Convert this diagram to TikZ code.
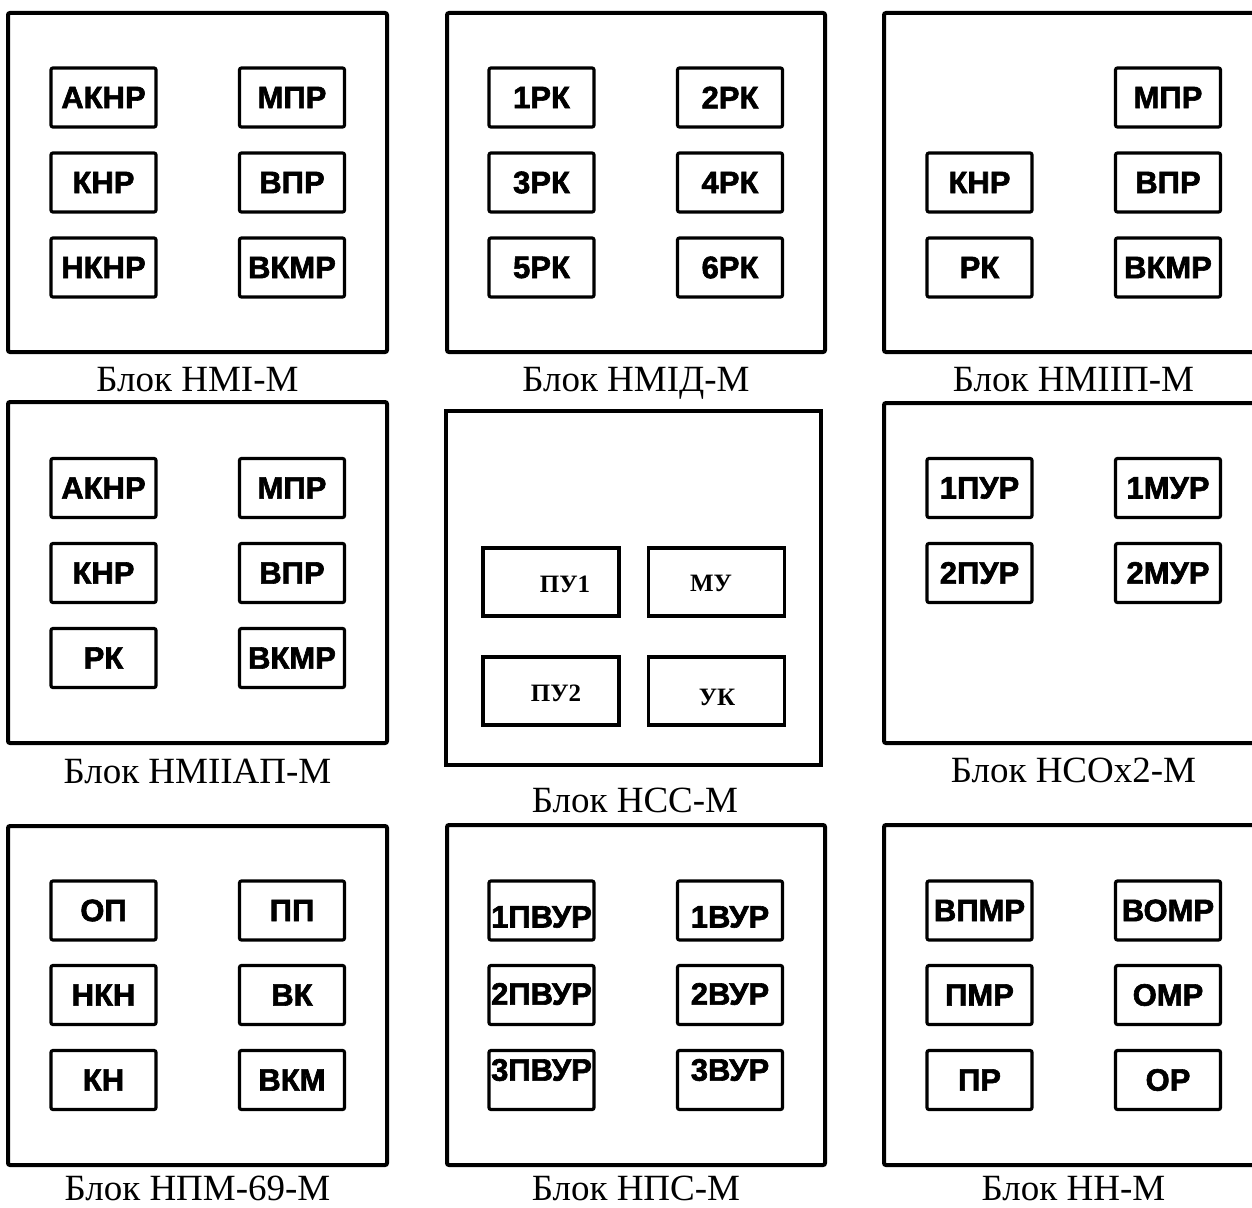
\documentclass[tikz,border=0pt]{standalone}
\usepackage{fontspec}
\setmainfont{Liberation Serif}
\newfontfamily\boxfont{Liberation Sans}[BoldFeatures={FakeBold=2}]
\newfontfamily\serbox{Liberation Serif}
\begin{document}
\begin{tikzpicture}[x=1pt,y=-1pt,
  frame/.style={draw=black,line width=4pt,rounded corners=2pt},
  cell/.style={draw=black,line width=3.2pt,rounded corners=2pt,minimum width=105pt,minimum height=59pt,inner sep=0pt,font=\boxfont\bfseries\fontsize{31}{31}\selectfont},
  ccell/.style={draw=black,line width=3.5pt,minimum width=136pt,minimum height=68pt,inner sep=0pt},
  ctext/.style={font=\serbox\bfseries\fontsize{25}{25}\selectfont,inner sep=0pt},
  caption/.style={font=\fontsize{37}{40}\selectfont,inner sep=0pt,anchor=base}]
\useasboundingbox (0,0) rectangle (1252,1207);
\clip (0,0) rectangle (1252,1207);

% ---------- Row 1 ----------
% Block NMI-M
\draw[frame] (8,13) rectangle (387,352);
\node[cell] (a1) at (103.5,97.5) {АКНР};
\node[cell] (a2) at (292,97.5) {МПР};
\node[cell] (a3) at (103.5,182.5) {КНР};
\node[cell] (a4) at (292,182.5) {ВПР};
\node[cell] (a5) at (103.5,267.5) {НКНР};
\node[cell] (a6) at (292,267.5) {ВКМР};
\node[caption] (ca) at (197.5,391) {Блок НМІ-М};

% Block NMID-M
\draw[frame] (447,13) rectangle (825,352);
\node[cell] (b1) at (541.5,97.5) {1РК};
\node[cell] (b2) at (730,97.5) {2РК};
\node[cell] (b3) at (541.5,182.5) {3РК};
\node[cell] (b4) at (730,182.5) {4РК};
\node[cell] (b5) at (541.5,267.5) {5РК};
\node[cell] (b6) at (730,267.5) {6РК};
\node[caption] (cb) at (636,391) {Блок НМІД-М};

% Block NMIIP-M
\draw[frame] (884,13) rectangle (1263,352);
\node[cell] (c2) at (1168,97.5) {МПР};
\node[cell] (c3) at (979.5,182.5) {КНР};
\node[cell] (c4) at (1168,182.5) {ВПР};
\node[cell] (c5) at (979.5,267.5) {РК};
\node[cell] (c6) at (1168,267.5) {ВКМР};
\node[caption] (cc) at (1073.5,391) {Блок НМІІП-М};

% ---------- Row 2 ----------
% Block NMIIAP-M
\draw[frame] (8,402) rectangle (387,743);
\node[cell] (d1) at (103.5,488) {АКНР};
\node[cell] (d2) at (292,488) {МПР};
\node[cell] (d3) at (103.5,573) {КНР};
\node[cell] (d4) at (292,573) {ВПР};
\node[cell] (d5) at (103.5,658) {РК};
\node[cell] (d6) at (292,658) {ВКМР};
\node[caption] (cd) at (197.5,783) {Блок НМІІАП-М};

% Block NSS-M
\draw[draw=black,line width=4pt] (446,411) rectangle (821,765);
\node[ccell] (e1) at (551,582) {};
\node[ccell] (e2) at (716.5,582) {};
\node[ccell] (e3) at (551,691) {};
\node[ccell] (e4) at (716.5,691) {};
\node[ctext] at (565,584) {ПУ1};
\node[ctext] at (711,583) {МУ};
\node[ctext] at (556,693) {ПУ2};
\node[ctext] at (717,697) {УК};
\node[caption] (ce) at (635,812) {Блок НСС-М};

% Block NSOx2-M
\draw[frame] (884,403) rectangle (1263,743);
\node[cell] (f1) at (979.5,488) {1ПУР};
\node[cell] (f2) at (1168,488) {1МУР};
\node[cell] (f3) at (979.5,573) {2ПУР};
\node[cell] (f4) at (1168,573) {2МУР};
\node[caption] (cf) at (1073.5,782) {Блок НСОх2-М};

% ---------- Row 3 ----------
% Block NPM-69-M
\draw[frame] (8,826) rectangle (387,1165);
\node[cell] (g1) at (103.5,910.5) {ОП};
\node[cell] (g2) at (292,910.5) {ПП};
\node[cell] (g3) at (103.5,995) {НКН};
\node[cell] (g4) at (292,995) {ВК};
\node[cell] (g5) at (103.5,1080) {КН};
\node[cell] (g6) at (292,1080) {ВКМ};
\node[caption] (cg) at (197.5,1200) {Блок НПМ-69-М};

% Block NPS-M
\draw[frame] (447,825) rectangle (825,1165);
\node[cell] (h1) at (541.5,910.5) {};
\node[cell] (h2) at (730,910.5) {};
\node[cell] (h3) at (541.5,995) {};
\node[cell] (h4) at (730,995) {};
\node[cell] (h5) at (541.5,1080) {};
\node[cell] (h6) at (730,1080) {};
\node[cell,draw=none] at (541.5,917) {1ПВУР};
\node[cell,draw=none] at (730,917) {1ВУР};
\node[cell,draw=none] at (541.5,994) {2ПВУР};
\node[cell,draw=none] at (730,994) {2ВУР};
\node[cell,draw=none] at (541.5,1070) {3ПВУР};
\node[cell,draw=none] at (730,1070) {3ВУР};
\node[caption] (ch) at (636,1200) {Блок НПС-М};

% Block NN-M
\draw[frame] (884,825) rectangle (1263,1165);
\node[cell] (i1) at (979.5,910.5) {ВПМР};
\node[cell] (i2) at (1168,910.5) {ВОМР};
\node[cell] (i3) at (979.5,995) {ПМР};
\node[cell] (i4) at (1168,995) {ОМР};
\node[cell] (i5) at (979.5,1080) {ПР};
\node[cell] (i6) at (1168,1080) {ОР};
\node[caption] (ci) at (1073.5,1200) {Блок НН-М};
\end{tikzpicture}
\end{document}
